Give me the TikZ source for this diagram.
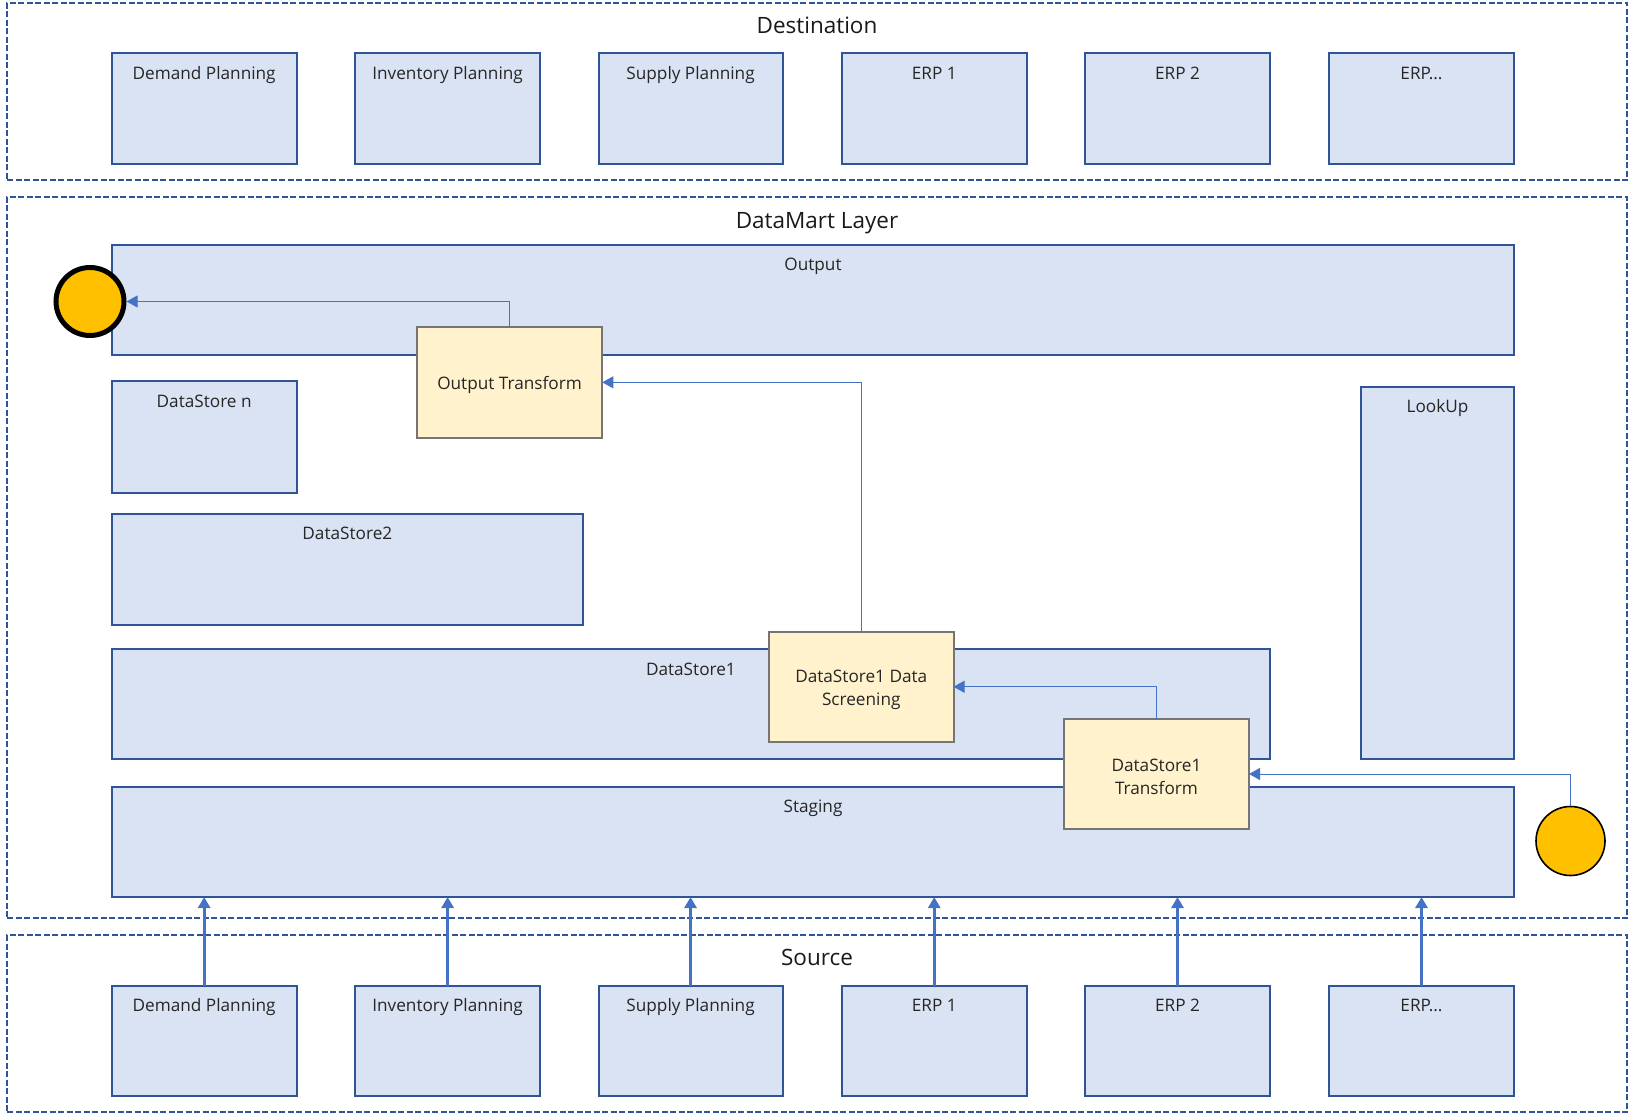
\documentclass[tikz,border=0pt]{standalone}
\usepackage{fontspec}
\setmainfont{Open Sans}
\usetikzlibrary{arrows.meta}
\definecolor{boxfill}{HTML}{DAE3F3}
\definecolor{boxline}{HTML}{2F5597}
\definecolor{yfill}{HTML}{FFF2CC}
\definecolor{yline}{HTML}{757575}
\definecolor{gold}{HTML}{FFC000}
\definecolor{arrowblue}{HTML}{4472C4}
\def\bT{26}
\newcommand{\bx}[7][bluebox]{%
  \pgfmathsetmacro{\bw}{#5-#3}\pgfmathsetmacro{\bh}{#6-#4}%
  \pgfmathsetmacro{\bd}{\bh-\bT}%
  \node[#1,anchor=north west,minimum width=\bw pt,text height=\bT pt,text depth=\bd pt] (#2) at (#3,#4) {#7};}
\newcommand{\ybx}[6]{%
  \pgfmathsetmacro{\bw}{#4-#2}\pgfmathsetmacro{\bh}{#5-#3}%
  \node[yellowbox,anchor=north west,minimum width=\bw pt,minimum height=\bh pt] (#1) at (#2,#3) {\rule{0pt}{19pt}#6};}
\newcommand{\ob}[7]{%
  \pgfmathsetmacro{\bw}{#4-#2}\pgfmathsetmacro{\bh}{#5-#3}%
  \pgfmathsetmacro{\bd}{\bh-#6}%
  \node[outerbox,anchor=north west,minimum width=\bw pt,text height=#6 pt,text depth=\bd pt] (#1) at (#2,#3) {#7};}
\tikzset{
  bluebox/.style={draw=boxline,fill=boxfill,line width=2pt,inner sep=0pt,outer sep=0pt,font=\fontsize{17.2}{20}\selectfont,text=black!85},
  yellowbox/.style={draw=yline,fill=yfill,line width=2pt,inner sep=0pt,outer sep=0pt,align=center,font=\fontsize{17.2}{23}\selectfont,text=black!85},
  outerbox/.style={draw=boxline,line width=1.3pt,dash pattern=on 6pt off 2.5pt,inner sep=0pt,outer sep=0pt,font=\fontsize{22.5}{26}\selectfont,text=black!90},
  thinarrow/.style={draw=arrowblue,line width=0.9pt,-{Triangle[length=11pt,width=12pt]}},
  thickarrow/.style={draw=arrowblue,line width=3pt,-{Triangle[length=11pt,width=12pt,sep=0pt]}},
  dot/.style={circle,draw=black,fill=gold,inner sep=0pt,outer sep=.5\pgflinewidth}
}
\begin{document}
\begin{tikzpicture}[x=1pt,y=-1pt]
\useasboundingbox (0,0) rectangle (1634,1116);
% outer frames
\ob{dest}{7}{3}{1627}{180}{31}{Destination}
\ob{mart}{7}{197}{1627}{918}{31}{DataMart Layer}
\ob{src}{7}{935}{1627}{1112}{30}{Source}
% destination row
\bx{d1}{111.7}{53.3}{296.6}{164.3}{Demand Planning}
\bx{d2}{354.8}{53.3}{540.4}{164.3}{Inventory Planning}
\bx{d3}{598.5}{53.3}{782.6}{164.3}{Supply Planning}
\bx{d4}{842}{53.3}{1026.5}{164.3}{ERP 1}
\bx{d5}{1084.9}{53.3}{1270.1}{164.3}{ERP 2}
\bx{d6}{1328.7}{53.3}{1514.3}{164.3}{ERP...}
% data mart
\bx{output}{111.7}{244.7}{1514.3}{355}{Output}
\bx{dsn}{111.7}{381.4}{296.6}{493}{DataStore n}
\bx{ds2}{111.7}{513.7}{583}{625}{DataStore2}
\bx{ds1}{111.7}{649}{1270.1}{759}{DataStore1}
\bx{lookup}{1360.8}{386.6}{1514.3}{759}{LookUp}
\def\bT{25}
\bx{staging}{111.7}{787}{1514.3}{897}{Staging}
% source row
\bx{s1}{111.7}{986}{296.6}{1096}{Demand Planning}
\bx{s2}{354.8}{986}{540.4}{1096}{Inventory Planning}
\bx{s3}{598.5}{986}{782.6}{1096}{Supply Planning}
\bx{s4}{842}{986}{1026.5}{1096}{ERP 1}
\bx{s5}{1084.9}{986}{1270.1}{1096}{ERP 2}
\bx{s6}{1328.7}{986}{1514.3}{1096}{ERP...}
\ybx{ot}{416.8}{327}{602.3}{437.7}{Output Transform}
\ybx{screen}{769}{631.5}{953.5}{742}{DataStore1 Data\\Screening}
\ybx{dt}{1063.9}{719}{1249}{829}{DataStore1\\Transform}
\node[dot,line width=5pt,minimum size=68pt] (c1) at (90,301.5) {};
\node[dot,line width=1.6pt,minimum size=69pt] (c2) at (1570.5,841) {};
% connectors
\draw[thinarrow] (c2.north) |- (dt.east);
\draw[thinarrow] (dt.north) |- (screen.east);
\draw[thinarrow] (screen.north) |- (ot.east);
\draw[thinarrow] (ot.north) |- (c1.east);
\foreach \n in {1,...,6}{\draw[thickarrow] (s\n.north) -- (s\n.north |- staging.south);}
\end{tikzpicture}
\end{document}
